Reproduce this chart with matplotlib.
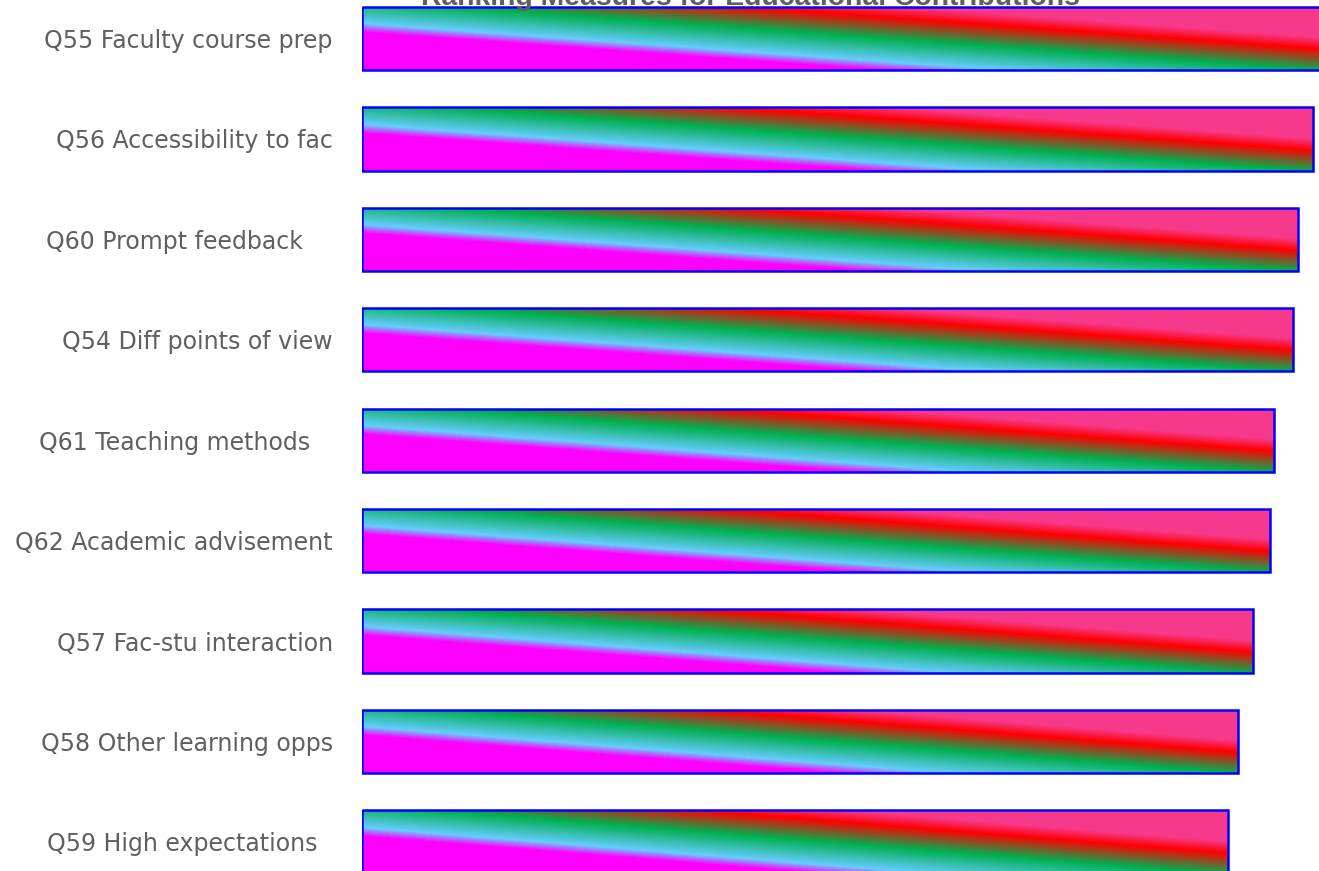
import numpy as np
import matplotlib.pyplot as plt
from matplotlib.colors import LinearSegmentedColormap

# Mean ratings, top to bottom
labels = [
    "Q55 Faculty course prep",
    "Q56 Accessibility to fac",
    "Q60 Prompt feedback    ",
    "Q54 Diff points of view",
    "Q61 Teaching methods   ",
    "Q62 Academic advisement",
    "Q57 Fac-stu interaction",
    "Q58 Other learning opps",
    "Q59 High expectations  ",
]
scores = [4.52, 4.47, 4.40, 4.38, 4.29, 4.27, 4.19, 4.12, 4.07]

title = "Ranking Measures for Educational Contributions"
text_gray = "#5F5F5F"

# diagonal bar fill: magenta -> light blue -> green -> red -> pink
grad_stops = [
    (0.00, "#FF00FF"),
    (0.28, "#FF00FF"),
    (0.345, "#66CCFF"),
    (0.52, "#00B050"),
    (0.68, "#FF0000"),
    (0.77, "#F7398C"),
    (1.00, "#F7398C"),
]
cmap = LinearSegmentedColormap.from_list("bar_grad", grad_stops)

# gradient in the bar's own (scaled) box, bottom-left to top-right
u = np.linspace(0, 1, 256)
v = np.linspace(1, 0, 64)
fill = (u[None, :] + 0.9 * v[:, None]) / 1.9

fig = plt.figure(figsize=(13.19, 8.71), dpi=100)
ax = fig.add_axes([362 / 1319, 0, 957 / 1319, 1])

pos = np.arange(len(labels))
bars = ax.barh(pos, scores, height=0.63, facecolor="none",
               edgecolor="#0000FF", linewidth=1.8, zorder=3)

for bar in bars:
    x0, y0 = bar.get_xy()
    w, h = bar.get_width(), bar.get_height()
    im = ax.imshow(fill, cmap=cmap, vmin=0, vmax=1, interpolation="bilinear",
                   extent=(x0, x0 + w, y0 + h, y0), aspect="auto", zorder=2)
    im.set_clip_path(bar)

ax.set_xlim(0, 4.5)
ax.set_ylim(8.29, -0.383)
ax.set_yticks(pos, labels)
ax.set_xticks([])
ax.tick_params(axis="y", length=0, pad=21, labelsize=17, labelcolor=text_gray)
for s in ax.spines.values():
    s.set_visible(False)

fig.text(750 / 1319, 1 - 5 / 871, title, ha="center", va="baseline",
         fontsize=20.4, fontweight="bold", color=text_gray,
         family="Liberation Sans", zorder=5)

fig.savefig("out.png", dpi=100)
